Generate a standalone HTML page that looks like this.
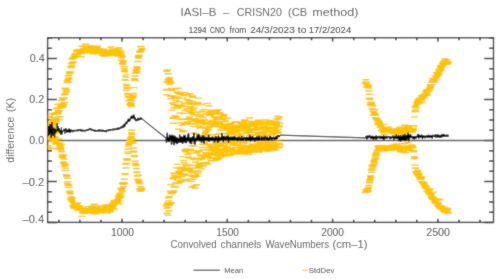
<!DOCTYPE html>
<html><head><meta charset="utf-8"><style>
html,body{margin:0;padding:0;background:#fff;width:500px;height:279px;overflow:hidden}
svg{display:block;will-change:transform}
text{font-family:"Liberation Sans",sans-serif}
</style></head><body>
<svg width="500" height="279" viewBox="0 0 500 279">
<defs><filter id="soft" x="0" y="0" width="500" height="279" filterUnits="userSpaceOnUse"><feConvolveMatrix order="3" kernelMatrix="1 2 1 2 20 2 1 2 1" divisor="32" edgeMode="duplicate"/></filter></defs><g filter="url(#soft)"><rect width="500" height="279" fill="#fff"/><rect x="47.6" y="37.7" width="445.9" height="184.7" fill="none" stroke="#333" stroke-width="1.4"/>
<path d="M58.8 222.4v-2.6M58.8 37.7v2.6M79.9 222.4v-2.6M79.9 37.7v2.6M100.9 222.4v-2.6M100.9 37.7v2.6M122.0 222.4v-3.7M122.0 37.7v3.7M143.1 222.4v-2.6M143.1 37.7v2.6M164.1 222.4v-2.6M164.1 37.7v2.6M185.2 222.4v-2.6M185.2 37.7v2.6M206.2 222.4v-2.6M206.2 37.7v2.6M227.3 222.4v-3.7M227.3 37.7v3.7M248.4 222.4v-2.6M248.4 37.7v2.6M269.4 222.4v-2.6M269.4 37.7v2.6M290.5 222.4v-2.6M290.5 37.7v2.6M311.5 222.4v-2.6M311.5 37.7v2.6M332.6 222.4v-3.7M332.6 37.7v3.7M353.7 222.4v-2.6M353.7 37.7v2.6M374.7 222.4v-2.6M374.7 37.7v2.6M395.8 222.4v-2.6M395.8 37.7v2.6M416.8 222.4v-2.6M416.8 37.7v2.6M437.9 222.4v-3.7M437.9 37.7v3.7M459.0 222.4v-2.6M459.0 37.7v2.6M480.0 222.4v-2.6M480.0 37.7v2.6M47.6 222.5h9.3M493.5 222.5h-9.3M47.6 212.3h4.4M493.5 212.3h-4.4M47.6 202.0h4.4M493.5 202.0h-4.4M47.6 191.8h4.4M493.5 191.8h-4.4M47.6 181.5h9.3M493.5 181.5h-9.3M47.6 171.3h4.4M493.5 171.3h-4.4M47.6 161.0h4.4M493.5 161.0h-4.4M47.6 150.8h4.4M493.5 150.8h-4.4M47.6 140.5h9.3M493.5 140.5h-9.3M47.6 130.2h4.4M493.5 130.2h-4.4M47.6 120.0h4.4M493.5 120.0h-4.4M47.6 109.7h4.4M493.5 109.7h-4.4M47.6 99.5h9.3M493.5 99.5h-9.3M47.6 89.2h4.4M493.5 89.2h-4.4M47.6 79.0h4.4M493.5 79.0h-4.4M47.6 68.7h4.4M493.5 68.7h-4.4M47.6 58.5h9.3M493.5 58.5h-9.3M47.6 48.2h4.4M493.5 48.2h-4.4M47.6 38.0h4.4M493.5 38.0h-4.4" stroke="#333" stroke-width="1.5" fill="none"/>
<path d="M47.6 140.5H493.5" stroke="#5a5a5a" stroke-width="1.4"/>
<defs><clipPath id="pc"><rect x="47.6" y="37.7" width="445.9" height="184.7"/></clipPath></defs>
<g clip-path="url(#pc)">
<path d="M44.8 127.2h7M44.8 145.7h7M45.1 125.9h7M45.1 131.6h7M45.3 130.3h7M45.3 147.6h7M45.6 128.9h7M45.6 136.9h7M45.8 116.4h7M45.8 131.2h7M46.1 134.4h7M46.1 138.4h7M46.4 124.2h7M46.4 134.0h7M46.6 122.1h7M46.6 130.3h7M46.9 124.5h7M46.9 132.6h7M47.2 129.8h7M47.2 139.5h7M47.4 124.5h7M47.4 137.8h7M47.7 135.6h7M47.7 148.7h7M47.9 127.5h7M47.9 139.8h7M48.2 124.8h7M48.2 129.3h7M48.5 113.5h7M48.5 123.3h7M48.7 120.3h7M48.7 139.8h7M49.0 117.8h7M49.0 135.8h7M49.3 122.4h7M49.3 141.9h7M49.5 125.2h7M49.5 139.3h7M49.8 120.0h7M49.8 137.0h7M50.1 122.9h7M50.1 133.5h7M50.3 121.0h7M50.3 140.6h7M50.6 114.8h7M50.6 137.6h7M50.8 124.6h7M50.8 137.8h7M51.1 127.0h7M51.1 148.5h7M51.4 118.0h7M51.4 140.9h7M51.6 117.6h7M51.6 136.7h7M51.9 120.8h7M51.9 143.7h7M52.2 113.9h7M52.2 138.6h7M52.4 112.7h7M52.4 138.6h7M52.7 121.3h7M52.7 142.1h7M53.0 123.3h7M53.0 139.7h7M53.2 108.8h7M53.2 144.4h7M53.5 118.7h7M53.5 142.9h7M53.7 107.9h7M53.7 133.2h7M54.0 104.4h7M54.0 131.3h7M54.3 113.7h7M54.3 144.0h7M54.5 110.8h7M54.5 132.7h7M54.8 111.9h7M54.8 143.4h7M55.1 111.2h7M55.1 143.8h7M55.3 112.9h7M55.3 139.0h7M55.6 108.1h7M55.6 139.4h7M55.8 108.4h7M55.8 143.0h7M56.1 110.8h7M56.1 146.5h7M56.4 119.6h7M56.4 143.9h7M56.6 116.8h7M56.6 145.4h7M56.9 105.9h7M56.9 149.2h7M57.2 107.5h7M57.2 146.8h7M57.4 107.7h7M57.4 148.2h7M57.7 104.0h7M57.7 150.0h7M58.0 100.5h7M58.0 144.2h7M58.2 106.6h7M58.2 151.7h7M58.5 106.9h7M58.5 154.6h7M58.7 97.9h7M58.7 156.7h7M59.0 104.7h7M59.0 157.1h7M59.3 107.3h7M59.3 158.1h7M59.5 106.2h7M59.5 155.6h7M59.8 99.0h7M59.8 163.0h7M60.1 105.0h7M60.1 161.9h7M60.3 103.0h7M60.3 154.7h7M60.6 94.4h7M60.6 159.1h7M60.8 98.0h7M60.8 166.2h7M61.1 94.7h7M61.1 164.4h7M61.4 102.7h7M61.4 170.4h7M61.6 88.2h7M61.6 164.0h7M61.9 93.7h7M61.9 165.1h7M62.2 89.7h7M62.2 168.2h7M62.4 88.3h7M62.4 170.5h7M62.7 92.1h7M62.7 174.6h7M63.0 91.7h7M63.0 176.3h7M63.2 90.1h7M63.2 175.8h7M63.5 80.9h7M63.5 175.4h7M63.7 82.6h7M63.7 183.5h7M64.0 81.9h7M64.0 178.2h7M64.3 79.7h7M64.3 181.6h7M64.5 79.1h7M64.5 185.0h7M64.8 75.7h7M64.8 184.6h7M65.1 78.9h7M65.1 187.3h7M65.3 82.0h7M65.3 185.3h7M65.6 73.9h7M65.6 187.2h7M65.8 78.0h7M65.8 192.0h7M66.1 71.7h7M66.1 191.7h7M66.4 73.0h7M66.4 191.3h7M66.6 72.8h7M66.6 193.9h7M66.9 72.3h7M66.9 193.4h7M67.2 67.6h7M67.2 199.0h7M67.4 72.1h7M67.4 197.0h7M67.7 66.4h7M67.7 200.0h7M68.0 63.5h7M68.0 198.9h7M68.2 67.3h7M68.2 200.0h7M68.5 65.4h7M68.5 201.0h7M68.7 59.0h7M68.7 202.4h7M69.0 62.8h7M69.0 198.0h7M69.3 62.6h7M69.3 205.3h7M69.5 57.7h7M69.5 205.8h7M69.8 61.6h7M69.8 207.4h7M70.1 57.5h7M70.1 206.7h7M70.3 58.1h7M70.3 205.7h7M70.6 57.0h7M70.6 208.4h7M70.9 58.0h7M70.9 203.7h7M71.1 54.4h7M71.1 206.1h7M71.4 55.5h7M71.4 207.4h7M71.6 56.5h7M71.6 207.2h7M71.9 53.7h7M71.9 206.3h7M72.2 54.7h7M72.2 206.7h7M72.4 53.6h7M72.4 205.7h7M72.7 53.7h7M72.7 207.9h7M73.0 51.4h7M73.0 206.7h7M73.2 51.7h7M73.2 204.7h7M73.5 50.0h7M73.5 209.7h7M73.7 51.1h7M73.7 203.9h7M74.0 56.7h7M74.0 205.6h7M74.3 54.9h7M74.3 202.9h7M74.5 50.8h7M74.5 205.8h7M74.8 51.2h7M74.8 208.2h7M75.1 50.4h7M75.1 208.2h7M75.3 49.4h7M75.3 207.1h7M75.6 50.4h7M75.6 207.3h7M75.9 49.9h7M75.9 210.3h7M76.1 51.9h7M76.1 207.7h7M76.4 52.2h7M76.4 206.0h7M76.6 52.0h7M76.6 209.5h7M76.9 49.8h7M76.9 210.3h7M77.2 52.7h7M77.2 209.0h7M77.4 53.5h7M77.4 208.2h7M77.7 56.7h7M77.7 209.5h7M78.0 51.8h7M78.0 209.0h7M78.2 49.4h7M78.2 216.4h7M78.5 51.7h7M78.5 211.1h7M78.7 46.0h7M78.7 210.2h7M79.0 51.5h7M79.0 213.0h7M79.3 50.4h7M79.3 207.6h7M79.5 49.4h7M79.5 210.0h7M79.8 48.6h7M79.8 210.6h7M80.1 51.5h7M80.1 209.3h7M80.3 46.6h7M80.3 210.5h7M80.6 48.5h7M80.6 212.1h7M80.9 46.4h7M80.9 213.5h7M81.1 49.2h7M81.1 210.2h7M81.4 48.5h7M81.4 211.8h7M81.6 51.8h7M81.6 212.0h7M81.9 48.6h7M81.9 212.0h7M82.2 44.3h7M82.2 212.1h7M82.4 52.7h7M82.4 209.0h7M82.7 50.2h7M82.7 210.9h7M83.0 52.4h7M83.0 210.3h7M83.2 46.7h7M83.2 211.2h7M83.5 48.0h7M83.5 211.5h7M83.8 50.8h7M83.8 210.2h7M84.0 50.4h7M84.0 210.2h7M84.3 52.9h7M84.3 206.9h7M84.5 47.0h7M84.5 210.0h7M84.8 46.5h7M84.8 210.0h7M85.1 51.2h7M85.1 209.0h7M85.3 47.8h7M85.3 212.9h7M85.6 51.2h7M85.6 208.6h7M85.9 49.1h7M85.9 210.9h7M86.1 50.8h7M86.1 212.9h7M86.4 48.3h7M86.4 206.9h7M86.6 48.2h7M86.6 206.9h7M86.9 47.5h7M86.9 206.8h7M87.2 50.4h7M87.2 211.2h7M87.4 45.8h7M87.4 206.5h7M87.7 49.2h7M87.7 212.9h7M88.0 52.3h7M88.0 211.9h7M88.2 47.0h7M88.2 207.7h7M88.5 47.1h7M88.5 208.3h7M88.8 48.9h7M88.8 210.6h7M89.0 47.6h7M89.0 208.2h7M89.3 49.0h7M89.3 211.1h7M89.5 53.8h7M89.5 206.0h7M89.8 49.5h7M89.8 213.3h7M90.1 50.5h7M90.1 207.4h7M90.3 47.6h7M90.3 209.9h7M90.6 48.2h7M90.6 213.1h7M90.9 48.7h7M90.9 204.2h7M91.1 49.4h7M91.1 206.9h7M91.4 52.1h7M91.4 207.9h7M91.6 52.3h7M91.6 209.1h7M91.9 51.4h7M91.9 208.6h7M92.2 53.8h7M92.2 213.7h7M92.4 51.1h7M92.4 209.6h7M92.7 51.4h7M92.7 212.3h7M93.0 50.9h7M93.0 210.2h7M93.2 51.1h7M93.2 207.3h7M93.5 47.4h7M93.5 209.8h7M93.8 51.7h7M93.8 211.0h7M94.0 46.1h7M94.0 211.2h7M94.3 50.3h7M94.3 210.6h7M94.5 52.7h7M94.5 209.0h7M94.8 51.6h7M94.8 209.1h7M95.1 50.6h7M95.1 208.6h7M95.3 53.5h7M95.3 211.3h7M95.6 52.4h7M95.6 212.7h7M95.9 52.0h7M95.9 210.0h7M96.1 48.7h7M96.1 209.2h7M96.4 52.2h7M96.4 211.4h7M96.7 50.2h7M96.7 209.3h7M96.9 53.2h7M96.9 210.3h7M97.2 50.0h7M97.2 206.0h7M97.4 50.6h7M97.4 210.5h7M97.7 52.8h7M97.7 208.9h7M98.0 51.2h7M98.0 211.0h7M98.2 50.5h7M98.2 211.9h7M98.5 53.7h7M98.5 212.8h7M98.8 55.4h7M98.8 209.8h7M99.0 49.7h7M99.0 212.7h7M99.3 52.0h7M99.3 207.9h7M99.5 52.0h7M99.5 212.0h7M99.8 52.3h7M99.8 207.9h7M100.1 50.9h7M100.1 211.7h7M100.3 49.3h7M100.3 209.0h7M100.6 56.4h7M100.6 210.7h7M100.9 54.1h7M100.9 211.3h7M101.1 53.1h7M101.1 210.4h7M101.4 53.8h7M101.4 209.7h7M101.7 52.2h7M101.7 205.2h7M101.9 50.2h7M101.9 210.9h7M102.2 52.9h7M102.2 212.0h7M102.4 53.7h7M102.4 209.7h7M102.7 54.0h7M102.7 206.4h7M103.0 52.4h7M103.0 206.8h7M103.2 51.2h7M103.2 206.2h7M103.5 55.0h7M103.5 209.2h7M103.8 55.9h7M103.8 212.1h7M104.0 52.9h7M104.0 212.8h7M104.3 53.3h7M104.3 207.5h7M104.5 53.6h7M104.5 204.7h7M104.8 53.2h7M104.8 207.6h7M105.1 51.5h7M105.1 206.7h7M105.3 52.5h7M105.3 211.5h7M105.6 52.4h7M105.6 209.4h7M105.9 51.2h7M105.9 208.4h7M106.1 50.7h7M106.1 205.8h7M106.4 52.1h7M106.4 204.8h7M106.7 50.6h7M106.7 211.8h7M106.9 52.6h7M106.9 210.2h7M107.2 52.8h7M107.2 209.3h7M107.4 47.0h7M107.4 205.3h7M107.7 51.6h7M107.7 206.1h7M108.0 52.7h7M108.0 206.3h7M108.2 53.7h7M108.2 205.8h7M108.5 55.0h7M108.5 206.3h7M108.8 49.0h7M108.8 204.5h7M109.0 53.1h7M109.0 207.5h7M109.3 52.0h7M109.3 202.9h7M109.5 51.5h7M109.5 205.9h7M109.8 48.9h7M109.8 204.0h7M110.1 54.8h7M110.1 206.0h7M110.3 55.6h7M110.3 205.5h7M110.6 49.2h7M110.6 201.4h7M110.9 50.8h7M110.9 200.5h7M111.1 50.2h7M111.1 201.8h7M111.4 49.6h7M111.4 208.7h7M111.7 50.3h7M111.7 201.6h7M111.9 53.1h7M111.9 203.6h7M112.2 54.1h7M112.2 203.8h7M112.4 55.1h7M112.4 200.8h7M112.7 52.9h7M112.7 203.5h7M113.0 51.4h7M113.0 202.3h7M113.2 51.2h7M113.2 200.1h7M113.5 52.2h7M113.5 201.7h7M113.8 52.5h7M113.8 200.7h7M114.0 52.6h7M114.0 199.8h7M114.3 49.4h7M114.3 203.0h7M114.6 56.1h7M114.6 196.3h7M114.8 55.5h7M114.8 198.9h7M115.1 51.5h7M115.1 201.0h7M115.3 47.8h7M115.3 197.1h7M115.6 52.3h7M115.6 203.7h7M115.9 54.0h7M115.9 193.7h7M116.1 51.8h7M116.1 198.1h7M116.4 55.7h7M116.4 194.7h7M116.7 49.9h7M116.7 198.3h7M116.9 54.2h7M116.9 197.9h7M117.2 53.1h7M117.2 188.6h7M117.4 52.0h7M117.4 196.3h7M117.7 55.0h7M117.7 192.9h7M118.0 60.2h7M118.0 189.9h7M118.2 57.7h7M118.2 190.6h7M118.5 56.2h7M118.5 188.2h7M118.8 56.7h7M118.8 183.2h7M119.0 63.0h7M119.0 191.1h7M119.3 64.3h7M119.3 190.9h7M119.6 62.1h7M119.6 184.2h7M119.8 60.8h7M119.8 182.5h7M120.1 60.7h7M120.1 186.7h7M120.3 66.7h7M120.3 183.8h7M120.6 68.8h7M120.6 182.7h7M120.9 66.5h7M120.9 179.3h7M121.1 71.8h7M121.1 183.4h7M121.4 70.5h7M121.4 173.8h7M121.7 79.8h7M121.7 174.6h7M121.9 80.3h7M121.9 174.0h7M122.2 77.0h7M122.2 164.0h7M122.4 74.9h7M122.4 168.0h7M122.7 84.4h7M122.7 163.8h7M123.0 90.3h7M123.0 159.5h7M123.2 85.7h7M123.2 163.2h7M123.5 88.2h7M123.5 158.7h7M123.8 87.8h7M123.8 160.2h7M124.0 94.5h7M124.0 149.1h7M124.3 93.5h7M124.3 151.9h7M124.6 94.3h7M124.6 153.6h7M124.8 97.3h7M124.8 145.7h7M125.1 94.7h7M125.1 149.0h7M125.3 100.9h7M125.3 144.5h7M125.6 96.6h7M125.6 143.5h7M125.9 100.5h7M125.9 142.6h7M126.1 104.1h7M126.1 143.2h7M126.4 105.0h7M126.4 140.5h7M126.7 104.2h7M126.7 139.6h7M126.9 99.3h7M126.9 138.8h7M127.2 102.8h7M127.2 140.7h7M127.5 105.2h7M127.5 136.5h7M127.7 104.1h7M127.7 137.5h7M128.0 106.0h7M128.0 132.8h7M128.2 106.5h7M128.2 130.3h7M128.5 100.9h7M128.5 134.5h7M128.8 96.4h7M128.8 138.8h7M129.0 98.1h7M129.0 141.8h7M129.3 97.2h7M129.3 143.2h7M129.6 96.4h7M129.6 141.5h7M129.8 95.8h7M129.8 148.2h7M130.1 93.8h7M130.1 151.2h7M130.3 93.5h7M130.3 148.3h7M130.6 87.6h7M130.6 152.0h7M130.9 78.7h7M130.9 156.6h7M131.1 79.6h7M131.1 155.4h7M131.4 76.0h7M131.4 163.5h7M131.7 73.3h7M131.7 161.3h7M131.9 80.6h7M131.9 161.2h7M132.2 73.4h7M132.2 165.5h7M132.5 70.9h7M132.5 165.4h7M132.7 69.6h7M132.7 164.6h7M133.0 66.8h7M133.0 168.5h7M133.2 72.5h7M133.2 172.0h7M133.5 71.6h7M133.5 172.6h7M133.8 69.1h7M133.8 176.0h7M134.0 68.3h7M134.0 179.7h7M134.3 61.5h7M134.3 175.1h7M134.6 56.8h7M134.6 175.4h7M134.8 61.5h7M134.8 179.3h7M135.1 58.0h7M135.1 181.7h7M135.3 55.6h7M135.3 180.6h7M135.6 55.3h7M135.6 183.0h7M135.9 56.0h7M135.9 183.2h7M136.1 52.4h7M136.1 188.8h7M136.4 51.1h7M136.4 183.9h7M136.7 51.9h7M136.7 191.2h7M136.9 46.5h7M136.9 186.6h7M137.2 51.0h7M137.2 189.6h7M137.5 50.8h7M137.5 190.3h7M137.7 46.9h7M137.7 189.9h7M138.0 50.3h7M138.0 189.1h7M138.2 49.7h7M138.2 190.1h7M138.5 48.6h7M138.5 188.3h7M162.7 90.1h7M162.7 205.9h7M163.0 71.3h7M163.0 208.4h7M163.3 94.8h7M163.3 204.9h7M163.5 82.3h7M163.5 213.2h7M163.8 89.5h7M163.8 202.9h7M164.0 70.0h7M164.0 203.7h7M164.3 81.5h7M164.3 215.1h7M164.6 79.3h7M164.6 207.5h7M164.8 73.8h7M164.8 197.8h7M165.1 82.8h7M165.1 200.9h7M165.4 80.1h7M165.4 205.3h7M165.6 81.5h7M165.6 210.8h7M165.9 79.7h7M165.9 196.5h7M166.1 77.8h7M166.1 196.5h7M166.4 84.5h7M166.4 204.8h7M166.7 81.2h7M166.7 191.3h7M166.9 96.4h7M166.9 203.5h7M167.2 98.8h7M167.2 184.6h7M167.5 82.8h7M167.5 193.5h7M167.7 96.2h7M167.7 192.5h7M168.0 88.5h7M168.0 202.5h7M168.3 90.3h7M168.3 191.9h7M168.5 110.1h7M168.5 191.1h7M168.8 102.8h7M168.8 193.4h7M169.0 95.7h7M169.0 193.6h7M169.3 117.6h7M169.3 178.7h7M169.6 118.6h7M169.6 177.8h7M169.8 123.3h7M169.8 192.4h7M170.1 104.8h7M170.1 173.2h7M170.4 107.7h7M170.4 186.4h7M170.6 97.7h7M170.6 190.7h7M170.9 104.5h7M170.9 187.4h7M171.2 98.3h7M171.2 175.2h7M171.4 115.8h7M171.4 177.0h7M171.7 88.9h7M171.7 178.1h7M171.9 98.2h7M171.9 183.2h7M172.2 88.5h7M172.2 176.2h7M172.5 116.7h7M172.5 186.6h7M172.7 100.5h7M172.7 167.9h7M173.0 117.1h7M173.0 177.4h7M173.3 96.9h7M173.3 183.6h7M173.5 91.9h7M173.5 177.5h7M173.8 106.0h7M173.8 164.4h7M174.0 98.4h7M174.0 180.3h7M174.3 93.3h7M174.3 182.6h7M174.6 108.1h7M174.6 178.1h7M174.8 106.7h7M174.8 176.0h7M175.1 88.1h7M175.1 171.3h7M175.4 129.2h7M175.4 171.7h7M175.6 118.9h7M175.6 183.4h7M175.9 101.8h7M175.9 167.7h7M176.2 113.1h7M176.2 173.2h7M176.4 94.5h7M176.4 180.9h7M176.7 93.2h7M176.7 168.4h7M176.9 113.3h7M176.9 169.0h7M177.2 122.7h7M177.2 170.9h7M177.5 92.5h7M177.5 181.9h7M177.7 105.1h7M177.7 176.6h7M178.0 119.5h7M178.0 174.4h7M178.3 125.3h7M178.3 167.1h7M178.5 94.4h7M178.5 180.1h7M178.8 106.3h7M178.8 175.9h7M179.0 130.5h7M179.0 176.5h7M179.3 131.8h7M179.3 156.6h7M179.6 98.1h7M179.6 169.2h7M179.8 131.2h7M179.8 173.9h7M180.1 95.0h7M180.1 160.5h7M180.4 113.6h7M180.4 168.0h7M180.6 95.6h7M180.6 162.7h7M180.9 103.5h7M180.9 173.8h7M181.2 92.4h7M181.2 180.5h7M181.4 110.5h7M181.4 150.5h7M181.7 123.7h7M181.7 170.7h7M181.9 119.5h7M181.9 164.6h7M182.2 119.1h7M182.2 151.9h7M182.5 106.5h7M182.5 148.9h7M182.7 94.2h7M182.7 150.2h7M183.0 123.2h7M183.0 179.5h7M183.3 108.7h7M183.3 165.7h7M183.5 124.4h7M183.5 170.0h7M183.8 99.7h7M183.8 164.7h7M184.0 94.5h7M184.0 168.0h7M184.3 122.0h7M184.3 154.4h7M184.6 119.3h7M184.6 157.0h7M184.8 102.2h7M184.8 175.2h7M185.1 102.9h7M185.1 140.7h7M185.4 118.7h7M185.4 149.8h7M185.6 111.4h7M185.6 170.3h7M185.9 117.2h7M185.9 158.1h7M186.2 100.6h7M186.2 153.2h7M186.4 108.5h7M186.4 179.1h7M186.7 93.8h7M186.7 168.9h7M186.9 104.4h7M186.9 165.3h7M187.2 106.9h7M187.2 149.3h7M187.5 120.0h7M187.5 171.2h7M187.7 112.3h7M187.7 181.3h7M188.0 113.5h7M188.0 187.1h7M188.3 103.4h7M188.3 172.5h7M188.5 96.0h7M188.5 145.7h7M188.8 123.5h7M188.8 176.4h7M189.1 101.6h7M189.1 158.0h7M189.3 97.2h7M189.3 165.1h7M189.6 110.0h7M189.6 179.4h7M189.8 114.7h7M189.8 150.8h7M190.1 126.4h7M190.1 159.6h7M190.4 108.0h7M190.4 146.3h7M190.6 133.3h7M190.6 185.9h7M190.9 104.7h7M190.9 175.2h7M191.2 124.1h7M191.2 177.3h7M191.4 121.4h7M191.4 168.0h7M191.7 118.8h7M191.7 188.2h7M191.9 119.8h7M191.9 162.1h7M192.2 134.2h7M192.2 175.4h7M192.5 120.5h7M192.5 176.4h7M192.7 103.1h7M192.7 158.1h7M193.0 114.6h7M193.0 184.7h7M193.3 112.4h7M193.3 153.0h7M193.5 112.5h7M193.5 176.4h7M193.8 112.2h7M193.8 170.9h7M194.1 102.4h7M194.1 158.5h7M194.3 103.3h7M194.3 173.9h7M194.6 122.6h7M194.6 151.9h7M194.8 98.1h7M194.8 171.8h7M195.1 104.5h7M195.1 167.3h7M195.4 125.9h7M195.4 165.0h7M195.6 116.9h7M195.6 166.5h7M195.9 116.3h7M195.9 150.9h7M196.2 119.6h7M196.2 159.9h7M196.4 127.7h7M196.4 163.1h7M196.7 114.5h7M196.7 164.1h7M196.9 123.8h7M196.9 155.0h7M197.2 116.3h7M197.2 155.0h7M197.5 104.6h7M197.5 158.2h7M197.7 121.6h7M197.7 156.1h7M198.0 121.3h7M198.0 155.5h7M198.3 127.3h7M198.3 168.9h7M198.5 104.1h7M198.5 147.5h7M198.8 111.3h7M198.8 159.0h7M199.1 122.2h7M199.1 144.5h7M199.3 137.1h7M199.3 144.5h7M199.6 111.7h7M199.6 149.9h7M199.8 117.5h7M199.8 165.7h7M200.1 120.6h7M200.1 162.6h7M200.4 123.1h7M200.4 156.1h7M200.6 109.4h7M200.6 164.1h7M200.9 119.7h7M200.9 142.8h7M201.2 133.9h7M201.2 155.7h7M201.4 123.3h7M201.4 157.4h7M201.7 128.4h7M201.7 156.1h7M202.0 132.6h7M202.0 152.6h7M202.2 130.9h7M202.2 162.5h7M202.5 124.7h7M202.5 153.3h7M202.7 111.9h7M202.7 157.0h7M203.0 131.2h7M203.0 155.8h7M203.3 127.1h7M203.3 163.2h7M203.5 113.8h7M203.5 144.1h7M203.8 135.3h7M203.8 150.0h7M204.1 103.4h7M204.1 154.1h7M204.3 128.1h7M204.3 164.1h7M204.6 122.7h7M204.6 154.1h7M204.8 123.4h7M204.8 156.8h7M205.1 129.7h7M205.1 147.7h7M205.4 105.8h7M205.4 145.0h7M205.6 114.0h7M205.6 154.1h7M205.9 123.8h7M205.9 153.0h7M206.2 115.0h7M206.2 150.5h7M206.4 126.7h7M206.4 157.7h7M206.7 113.3h7M206.7 144.2h7M207.0 115.5h7M207.0 158.8h7M207.2 121.3h7M207.2 146.4h7M207.5 110.2h7M207.5 154.8h7M207.7 111.7h7M207.7 160.8h7M208.0 124.8h7M208.0 150.9h7M208.3 113.6h7M208.3 157.6h7M208.5 123.9h7M208.5 157.7h7M208.8 114.2h7M208.8 147.7h7M209.1 134.8h7M209.1 160.7h7M209.3 120.9h7M209.3 148.7h7M209.6 120.3h7M209.6 149.2h7M209.8 125.7h7M209.8 154.8h7M210.1 111.9h7M210.1 160.9h7M210.4 123.3h7M210.4 158.8h7M210.6 117.1h7M210.6 155.4h7M210.9 116.9h7M210.9 151.5h7M211.2 136.9h7M211.2 153.3h7M211.4 121.3h7M211.4 160.6h7M211.7 125.0h7M211.7 149.7h7M212.0 113.2h7M212.0 148.3h7M212.2 118.0h7M212.2 142.4h7M212.5 114.3h7M212.5 143.9h7M212.7 121.7h7M212.7 144.9h7M213.0 122.7h7M213.0 143.7h7M213.3 111.2h7M213.3 160.2h7M213.5 126.1h7M213.5 158.5h7M213.8 119.2h7M213.8 156.9h7M214.1 137.5h7M214.1 146.5h7M214.3 114.3h7M214.3 158.9h7M214.6 134.1h7M214.6 143.5h7M214.8 109.8h7M214.8 146.9h7M215.1 126.4h7M215.1 152.2h7M215.4 126.8h7M215.4 158.8h7M215.6 117.7h7M215.6 153.0h7M215.9 122.8h7M215.9 153.5h7M216.2 133.5h7M216.2 154.4h7M216.4 112.7h7M216.4 146.0h7M216.7 127.3h7M216.7 150.6h7M217.0 123.9h7M217.0 155.7h7M217.2 130.2h7M217.2 143.8h7M217.5 126.3h7M217.5 148.9h7M217.7 114.2h7M217.7 157.0h7M218.0 119.6h7M218.0 151.9h7M218.3 116.1h7M218.3 150.9h7M218.5 118.7h7M218.5 145.1h7M218.8 124.3h7M218.8 150.0h7M219.1 127.8h7M219.1 143.0h7M219.3 126.8h7M219.3 156.2h7M219.6 128.2h7M219.6 143.2h7M219.9 121.6h7M219.9 156.3h7M220.1 116.3h7M220.1 150.2h7M220.4 125.8h7M220.4 151.3h7M220.6 114.8h7M220.6 145.6h7M220.9 127.4h7M220.9 151.2h7M221.2 124.3h7M221.2 145.1h7M221.4 121.6h7M221.4 152.7h7M221.7 118.2h7M221.7 150.4h7M222.0 133.5h7M222.0 146.8h7M222.2 125.8h7M222.2 148.8h7M222.5 120.1h7M222.5 143.3h7M222.7 130.1h7M222.7 143.1h7M223.0 126.7h7M223.0 154.5h7M223.3 124.4h7M223.3 147.8h7M223.5 125.2h7M223.5 141.1h7M223.8 129.4h7M223.8 146.7h7M224.1 129.3h7M224.1 150.8h7M224.3 124.3h7M224.3 155.4h7M224.6 118.3h7M224.6 141.7h7M224.9 128.2h7M224.9 149.1h7M225.1 134.2h7M225.1 151.7h7M225.4 127.6h7M225.4 155.9h7M225.6 126.7h7M225.6 142.0h7M225.9 132.3h7M225.9 148.6h7M226.2 123.9h7M226.2 150.8h7M226.4 127.6h7M226.4 143.6h7M226.7 129.0h7M226.7 155.1h7M227.0 130.3h7M227.0 150.4h7M227.2 126.8h7M227.2 154.0h7M227.5 123.2h7M227.5 148.4h7M227.7 128.8h7M227.7 149.5h7M228.0 133.8h7M228.0 151.4h7M228.3 134.7h7M228.3 149.3h7M228.5 130.9h7M228.5 149.4h7M228.8 127.8h7M228.8 154.3h7M229.1 131.1h7M229.1 144.6h7M229.3 132.6h7M229.3 150.5h7M229.6 126.5h7M229.6 150.1h7M229.9 131.5h7M229.9 153.0h7M230.1 130.5h7M230.1 142.8h7M230.4 131.1h7M230.4 145.4h7M230.6 128.0h7M230.6 144.9h7M230.9 125.1h7M230.9 143.1h7M231.2 122.3h7M231.2 147.9h7M231.4 125.7h7M231.4 150.7h7M231.7 129.1h7M231.7 152.9h7M232.0 122.2h7M232.0 147.4h7M232.2 121.6h7M232.2 141.5h7M232.5 131.6h7M232.5 144.6h7M232.8 133.6h7M232.8 152.3h7M233.0 131.0h7M233.0 151.9h7M233.3 125.2h7M233.3 154.1h7M233.5 122.4h7M233.5 153.0h7M233.8 132.1h7M233.8 144.5h7M234.1 135.8h7M234.1 153.3h7M234.3 126.5h7M234.3 150.0h7M234.6 126.9h7M234.6 142.0h7M234.9 125.9h7M234.9 147.3h7M235.1 133.8h7M235.1 152.4h7M235.4 128.6h7M235.4 153.3h7M235.6 128.7h7M235.6 151.2h7M235.9 129.4h7M235.9 150.0h7M236.2 129.3h7M236.2 150.0h7M236.4 129.8h7M236.4 147.7h7M236.7 127.5h7M236.7 152.7h7M237.0 122.8h7M237.0 154.0h7M237.2 127.1h7M237.2 148.7h7M237.5 136.5h7M237.5 145.7h7M237.8 135.2h7M237.8 153.1h7M238.0 123.5h7M238.0 149.8h7M238.3 122.7h7M238.3 142.4h7M238.5 122.2h7M238.5 146.6h7M238.8 131.0h7M238.8 154.1h7M239.1 124.3h7M239.1 143.0h7M239.3 123.1h7M239.3 150.6h7M239.6 122.8h7M239.6 145.3h7M239.9 122.3h7M239.9 153.4h7M240.1 128.3h7M240.1 150.5h7M240.4 125.6h7M240.4 146.6h7M240.6 124.9h7M240.6 143.0h7M240.9 124.1h7M240.9 153.1h7M241.2 120.0h7M241.2 151.1h7M241.4 120.5h7M241.4 149.3h7M241.7 126.8h7M241.7 152.5h7M242.0 133.4h7M242.0 147.0h7M242.2 129.1h7M242.2 150.9h7M242.5 125.3h7M242.5 151.3h7M242.8 121.6h7M242.8 146.8h7M243.0 127.5h7M243.0 141.6h7M243.3 127.6h7M243.3 146.4h7M243.5 132.6h7M243.5 141.6h7M243.8 123.6h7M243.8 150.9h7M244.1 131.0h7M244.1 146.9h7M244.3 130.8h7M244.3 147.4h7M244.6 124.9h7M244.6 146.7h7M244.9 132.3h7M244.9 147.3h7M245.1 128.2h7M245.1 150.5h7M245.4 131.5h7M245.4 154.3h7M245.6 121.5h7M245.6 148.3h7M245.9 130.8h7M245.9 151.4h7M246.2 117.7h7M246.2 145.6h7M246.4 135.5h7M246.4 150.8h7M246.7 125.4h7M246.7 148.2h7M247.0 126.3h7M247.0 148.1h7M247.2 134.5h7M247.2 152.6h7M247.5 129.8h7M247.5 147.3h7M247.8 128.4h7M247.8 147.9h7M248.0 130.6h7M248.0 146.5h7M248.3 132.4h7M248.3 149.3h7M248.5 122.8h7M248.5 144.5h7M248.8 121.7h7M248.8 143.9h7M249.1 124.0h7M249.1 148.7h7M249.3 125.0h7M249.3 146.2h7M249.6 134.5h7M249.6 148.0h7M249.9 129.4h7M249.9 152.1h7M250.1 123.4h7M250.1 145.4h7M250.4 125.3h7M250.4 146.4h7M250.7 135.3h7M250.7 146.8h7M250.9 121.8h7M250.9 148.0h7M251.2 130.3h7M251.2 146.8h7M251.4 124.7h7M251.4 146.2h7M251.7 126.3h7M251.7 150.2h7M252.0 122.3h7M252.0 148.0h7M252.2 129.7h7M252.2 147.6h7M252.5 132.4h7M252.5 147.3h7M252.8 122.0h7M252.8 150.8h7M253.0 128.7h7M253.0 141.6h7M253.3 134.8h7M253.3 147.5h7M253.5 124.7h7M253.5 151.6h7M253.8 134.1h7M253.8 144.2h7M254.1 127.8h7M254.1 146.9h7M254.3 122.0h7M254.3 152.3h7M254.6 120.3h7M254.6 149.8h7M254.9 129.2h7M254.9 144.0h7M255.1 133.1h7M255.1 145.8h7M255.4 121.8h7M255.4 144.0h7M255.7 123.5h7M255.7 147.2h7M255.9 135.3h7M255.9 152.3h7M256.2 129.9h7M256.2 143.5h7M256.4 133.5h7M256.4 150.1h7M256.7 124.2h7M256.7 142.9h7M257.0 123.5h7M257.0 150.9h7M257.2 128.1h7M257.2 142.2h7M257.5 132.8h7M257.5 146.9h7M257.8 122.1h7M257.8 142.3h7M258.0 132.2h7M258.0 142.3h7M258.3 136.3h7M258.3 150.5h7M258.5 124.0h7M258.5 148.2h7M258.8 133.5h7M258.8 142.8h7M259.1 123.4h7M259.1 142.4h7M259.3 133.2h7M259.3 146.2h7M259.6 126.3h7M259.6 145.1h7M259.9 123.1h7M259.9 142.5h7M260.1 126.0h7M260.1 147.1h7M260.4 128.2h7M260.4 143.1h7M260.7 127.2h7M260.7 149.8h7M260.9 131.6h7M260.9 148.4h7M261.2 132.7h7M261.2 148.1h7M261.4 135.5h7M261.4 149.6h7M261.7 120.0h7M261.7 139.4h7M262.0 122.0h7M262.0 142.2h7M262.2 134.7h7M262.2 146.3h7M262.5 129.1h7M262.5 141.8h7M262.8 129.2h7M262.8 149.4h7M263.0 130.1h7M263.0 150.3h7M263.3 128.9h7M263.3 144.4h7M263.6 136.1h7M263.6 145.3h7M263.8 128.7h7M263.8 149.1h7M264.1 128.3h7M264.1 145.3h7M264.3 127.9h7M264.3 143.5h7M264.6 127.7h7M264.6 151.2h7M264.9 125.0h7M264.9 147.5h7M265.1 123.4h7M265.1 142.0h7M265.4 127.2h7M265.4 145.4h7M265.7 131.0h7M265.7 150.4h7M265.9 131.3h7M265.9 147.6h7M266.2 124.4h7M266.2 142.9h7M266.4 127.0h7M266.4 146.5h7M266.7 134.6h7M266.7 148.0h7M267.0 120.5h7M267.0 144.4h7M267.2 128.6h7M267.2 145.0h7M267.5 129.0h7M267.5 150.6h7M267.8 121.8h7M267.8 143.2h7M268.0 131.7h7M268.0 148.9h7M268.3 121.7h7M268.3 146.0h7M268.6 130.9h7M268.6 150.1h7M268.8 132.6h7M268.8 150.1h7M269.1 134.2h7M269.1 149.5h7M269.3 131.8h7M269.3 146.0h7M269.6 127.2h7M269.6 148.6h7M269.9 128.9h7M269.9 141.9h7M270.1 123.9h7M270.1 144.0h7M270.4 135.0h7M270.4 144.1h7M270.7 128.8h7M270.7 148.7h7M270.9 131.0h7M270.9 145.0h7M271.2 122.7h7M271.2 143.9h7M271.4 127.9h7M271.4 145.7h7M271.7 121.1h7M271.7 146.7h7M272.0 125.1h7M272.0 147.5h7M272.2 133.1h7M272.2 146.8h7M272.5 123.5h7M272.5 146.7h7M272.8 130.1h7M272.8 150.2h7M273.0 125.0h7M273.0 147.9h7M273.3 125.6h7M273.3 144.3h7M273.6 118.8h7M273.6 146.3h7M273.8 122.3h7M273.8 147.2h7M274.1 116.2h7M274.1 141.3h7M274.3 131.8h7M274.3 147.1h7M274.6 129.4h7M274.6 143.4h7M274.9 119.2h7M274.9 146.5h7M275.1 132.9h7M275.1 143.4h7M275.4 126.9h7M275.4 147.5h7M275.7 125.8h7M275.7 144.1h7M275.9 117.1h7M275.9 139.6h7M276.2 125.8h7M276.2 143.8h7M276.5 123.2h7M276.5 146.1h7M361.7 83.3h7M361.7 192.5h7M362.0 82.6h7M362.0 192.1h7M362.3 82.3h7M362.3 189.8h7M362.5 79.7h7M362.5 189.8h7M362.8 83.0h7M362.8 189.5h7M363.1 87.0h7M363.1 190.7h7M363.3 84.6h7M363.3 190.3h7M363.6 84.8h7M363.6 190.5h7M363.8 87.2h7M363.8 192.0h7M364.1 84.7h7M364.1 188.6h7M364.4 87.3h7M364.4 189.7h7M364.6 85.2h7M364.6 191.4h7M364.9 86.3h7M364.9 187.7h7M365.2 88.1h7M365.2 185.4h7M365.4 91.0h7M365.4 185.4h7M365.7 94.3h7M365.7 185.7h7M366.0 98.1h7M366.0 182.8h7M366.2 99.5h7M366.2 182.0h7M366.5 98.3h7M366.5 180.2h7M366.7 104.8h7M366.7 178.9h7M367.0 102.8h7M367.0 176.8h7M367.3 103.8h7M367.3 175.6h7M367.5 105.9h7M367.5 177.6h7M367.8 104.0h7M367.8 169.8h7M368.1 102.2h7M368.1 172.2h7M368.3 104.3h7M368.3 169.0h7M368.6 108.6h7M368.6 166.0h7M368.9 105.7h7M368.9 170.0h7M369.1 105.7h7M369.1 164.8h7M369.4 109.6h7M369.4 167.0h7M369.6 111.6h7M369.6 167.1h7M369.9 114.8h7M369.9 165.8h7M370.2 111.5h7M370.2 162.2h7M370.4 115.3h7M370.4 164.9h7M370.7 112.8h7M370.7 160.7h7M371.0 114.7h7M371.0 163.0h7M371.2 113.7h7M371.2 159.5h7M371.5 113.4h7M371.5 158.7h7M371.7 109.6h7M371.7 155.1h7M372.0 117.8h7M372.0 153.6h7M372.3 115.0h7M372.3 157.0h7M372.5 118.2h7M372.5 158.9h7M372.8 117.9h7M372.8 155.2h7M373.1 119.9h7M373.1 152.8h7M373.3 118.6h7M373.3 154.7h7M373.6 119.0h7M373.6 151.0h7M373.9 119.7h7M373.9 150.1h7M374.1 124.5h7M374.1 150.2h7M374.4 123.1h7M374.4 146.3h7M374.6 121.3h7M374.6 146.7h7M374.9 121.0h7M374.9 147.6h7M375.2 123.7h7M375.2 149.0h7M375.4 123.9h7M375.4 145.8h7M375.7 121.5h7M375.7 148.4h7M376.0 124.7h7M376.0 145.9h7M376.2 122.9h7M376.2 145.5h7M376.5 124.0h7M376.5 149.2h7M376.7 127.3h7M376.7 148.9h7M377.0 125.0h7M377.0 145.7h7M377.3 126.1h7M377.3 149.3h7M377.5 126.8h7M377.5 148.0h7M377.8 126.5h7M377.8 147.0h7M378.1 129.9h7M378.1 146.7h7M378.3 130.5h7M378.3 147.4h7M378.6 129.2h7M378.6 145.5h7M378.9 129.3h7M378.9 149.1h7M379.1 128.9h7M379.1 150.4h7M379.4 130.8h7M379.4 149.0h7M379.6 132.9h7M379.6 148.4h7M379.9 130.8h7M379.9 147.3h7M380.2 124.4h7M380.2 146.2h7M380.4 131.8h7M380.4 148.2h7M380.7 131.8h7M380.7 151.0h7M381.0 134.8h7M381.0 148.3h7M381.2 130.7h7M381.2 145.6h7M381.5 131.9h7M381.5 147.7h7M381.8 129.3h7M381.8 147.9h7M382.0 127.7h7M382.0 146.9h7M382.3 129.1h7M382.3 146.9h7M382.5 129.0h7M382.5 148.3h7M382.8 128.6h7M382.8 146.6h7M383.1 129.2h7M383.1 145.7h7M383.3 131.3h7M383.3 147.3h7M383.6 130.4h7M383.6 148.0h7M383.9 130.3h7M383.9 147.8h7M384.1 130.7h7M384.1 150.1h7M384.4 130.2h7M384.4 145.7h7M384.6 127.2h7M384.6 150.1h7M384.9 132.5h7M384.9 149.1h7M385.2 127.8h7M385.2 147.0h7M385.4 130.3h7M385.4 149.0h7M385.7 131.7h7M385.7 145.7h7M386.0 130.8h7M386.0 147.9h7M386.2 130.1h7M386.2 147.1h7M386.5 131.9h7M386.5 149.8h7M386.8 131.8h7M386.8 146.0h7M387.0 131.1h7M387.0 150.6h7M387.3 129.1h7M387.3 146.2h7M387.5 131.2h7M387.5 147.3h7M387.8 131.3h7M387.8 148.0h7M388.1 132.8h7M388.1 148.5h7M388.3 130.9h7M388.3 148.3h7M388.6 129.3h7M388.6 147.7h7M388.9 131.4h7M388.9 148.4h7M389.1 130.9h7M389.1 149.2h7M389.4 130.6h7M389.4 144.9h7M389.6 130.7h7M389.6 148.3h7M389.9 130.4h7M389.9 149.8h7M390.2 130.5h7M390.2 146.9h7M390.4 133.7h7M390.4 149.8h7M390.7 132.2h7M390.7 146.6h7M391.0 130.7h7M391.0 147.2h7M391.2 130.8h7M391.2 150.1h7M391.5 133.0h7M391.5 149.2h7M391.8 129.3h7M391.8 148.4h7M392.0 131.2h7M392.0 147.4h7M392.3 131.0h7M392.3 149.3h7M392.5 132.6h7M392.5 147.6h7M392.8 128.6h7M392.8 144.0h7M393.1 129.7h7M393.1 147.6h7M393.3 129.2h7M393.3 146.4h7M393.6 135.1h7M393.6 148.1h7M393.9 133.2h7M393.9 149.9h7M394.1 129.6h7M394.1 146.8h7M394.4 130.8h7M394.4 146.0h7M394.6 130.8h7M394.6 148.3h7M394.9 130.1h7M394.9 145.6h7M395.2 130.1h7M395.2 149.0h7M395.4 129.7h7M395.4 148.9h7M395.7 129.2h7M395.7 148.3h7M396.0 133.5h7M396.0 150.0h7M396.2 127.4h7M396.2 146.2h7M396.5 132.8h7M396.5 149.8h7M396.8 128.2h7M396.8 149.0h7M397.0 136.2h7M397.0 151.5h7M397.3 132.2h7M397.3 149.5h7M397.5 127.1h7M397.5 146.6h7M397.8 132.6h7M397.8 151.7h7M398.1 129.9h7M398.1 148.6h7M398.3 133.3h7M398.3 151.8h7M398.6 130.1h7M398.6 150.8h7M398.9 130.7h7M398.9 147.0h7M399.1 128.7h7M399.1 143.9h7M399.4 128.5h7M399.4 149.4h7M399.7 131.9h7M399.7 151.3h7M399.9 132.8h7M399.9 152.6h7M400.2 129.3h7M400.2 147.6h7M400.4 134.2h7M400.4 151.6h7M400.7 129.6h7M400.7 143.6h7M401.0 133.3h7M401.0 149.6h7M401.2 125.3h7M401.2 143.5h7M401.5 129.8h7M401.5 148.7h7M401.8 128.2h7M401.8 149.4h7M402.0 133.1h7M402.0 152.8h7M402.3 130.6h7M402.3 146.1h7M402.5 130.7h7M402.5 146.1h7M402.8 131.2h7M402.8 149.5h7M403.1 127.3h7M403.1 146.2h7M403.3 129.6h7M403.3 146.5h7M403.6 128.5h7M403.6 147.1h7M403.9 130.5h7M403.9 149.7h7M404.1 129.2h7M404.1 146.9h7M404.4 130.7h7M404.4 147.9h7M404.7 125.9h7M404.7 142.4h7M404.9 131.4h7M404.9 145.9h7M405.2 132.4h7M405.2 148.9h7M405.4 127.2h7M405.4 148.2h7M405.7 128.4h7M405.7 147.1h7M406.0 132.5h7M406.0 148.9h7M406.2 128.4h7M406.2 146.6h7M406.5 130.5h7M406.5 146.6h7M406.8 130.3h7M406.8 145.9h7M407.0 125.7h7M407.0 146.7h7M407.3 129.6h7M407.3 147.8h7M407.5 132.0h7M407.5 146.1h7M407.8 131.0h7M407.8 150.3h7M408.1 130.1h7M408.1 147.9h7M408.3 130.9h7M408.3 144.9h7M408.6 132.2h7M408.6 147.3h7M408.9 131.9h7M408.9 145.8h7M409.1 129.2h7M409.1 147.4h7M409.4 130.0h7M409.4 150.7h7M409.7 129.9h7M409.7 151.3h7M409.9 130.5h7M409.9 147.5h7M410.2 128.1h7M410.2 150.7h7M410.4 125.9h7M410.4 151.7h7M410.7 125.7h7M410.7 158.9h7M411.0 116.9h7M411.0 156.6h7M411.2 111.9h7M411.2 157.9h7M411.5 106.8h7M411.5 165.1h7M411.8 109.9h7M411.8 167.9h7M412.0 107.4h7M412.0 168.2h7M412.3 111.5h7M412.3 171.6h7M412.6 105.2h7M412.6 172.4h7M412.8 107.8h7M412.8 172.5h7M413.1 107.8h7M413.1 173.9h7M413.3 101.8h7M413.3 172.4h7M413.6 103.8h7M413.6 172.8h7M413.9 102.6h7M413.9 171.4h7M414.1 99.4h7M414.1 175.1h7M414.4 101.2h7M414.4 170.3h7M414.7 100.6h7M414.7 173.7h7M414.9 102.0h7M414.9 176.3h7M415.2 102.8h7M415.2 173.4h7M415.4 99.9h7M415.4 173.3h7M415.7 103.2h7M415.7 174.8h7M416.0 98.2h7M416.0 177.5h7M416.2 99.2h7M416.2 177.8h7M416.5 99.3h7M416.5 178.4h7M416.8 99.2h7M416.8 179.6h7M417.0 102.3h7M417.0 178.9h7M417.3 99.1h7M417.3 178.4h7M417.6 98.1h7M417.6 179.5h7M417.8 100.2h7M417.8 176.8h7M418.1 95.8h7M418.1 178.1h7M418.3 99.1h7M418.3 182.2h7M418.6 97.5h7M418.6 181.6h7M418.9 102.5h7M418.9 181.7h7M419.1 98.3h7M419.1 182.7h7M419.4 97.3h7M419.4 183.5h7M419.7 98.0h7M419.7 183.6h7M419.9 95.0h7M419.9 182.0h7M420.2 94.4h7M420.2 182.2h7M420.4 97.3h7M420.4 183.7h7M420.7 95.1h7M420.7 184.5h7M421.0 96.3h7M421.0 186.4h7M421.2 97.1h7M421.2 185.6h7M421.5 94.0h7M421.5 185.6h7M421.8 94.5h7M421.8 188.3h7M422.0 94.0h7M422.0 186.7h7M422.3 90.7h7M422.3 185.7h7M422.6 93.0h7M422.6 186.1h7M422.8 93.0h7M422.8 188.1h7M423.1 90.0h7M423.1 188.2h7M423.3 91.3h7M423.3 191.4h7M423.6 94.4h7M423.6 188.5h7M423.9 94.8h7M423.9 189.1h7M424.1 95.3h7M424.1 191.2h7M424.4 91.6h7M424.4 188.5h7M424.7 90.4h7M424.7 191.8h7M424.9 91.1h7M424.9 190.3h7M425.2 90.1h7M425.2 193.4h7M425.4 91.2h7M425.4 192.5h7M425.7 88.5h7M425.7 190.0h7M426.0 87.8h7M426.0 189.9h7M426.2 90.1h7M426.2 193.7h7M426.5 85.1h7M426.5 194.0h7M426.8 86.3h7M426.8 194.2h7M427.0 87.2h7M427.0 189.1h7M427.3 85.0h7M427.3 193.7h7M427.6 84.7h7M427.6 195.6h7M427.8 82.4h7M427.8 194.0h7M428.1 82.0h7M428.1 197.7h7M428.3 84.6h7M428.3 196.6h7M428.6 84.8h7M428.6 199.1h7M428.9 80.6h7M428.9 197.2h7M429.1 78.9h7M429.1 198.4h7M429.4 81.8h7M429.4 197.6h7M429.7 82.4h7M429.7 197.7h7M429.9 78.7h7M429.9 197.5h7M430.2 80.8h7M430.2 192.1h7M430.5 78.5h7M430.5 200.0h7M430.7 79.8h7M430.7 198.1h7M431.0 81.4h7M431.0 201.7h7M431.2 78.8h7M431.2 199.6h7M431.5 81.9h7M431.5 202.5h7M431.8 75.8h7M431.8 200.5h7M432.0 79.0h7M432.0 202.8h7M432.3 77.9h7M432.3 202.1h7M432.6 79.1h7M432.6 203.2h7M432.8 72.8h7M432.8 199.9h7M433.1 77.0h7M433.1 200.2h7M433.3 76.3h7M433.3 202.3h7M433.6 75.7h7M433.6 205.2h7M433.9 73.8h7M433.9 202.5h7M434.1 73.0h7M434.1 205.1h7M434.4 74.4h7M434.4 198.9h7M434.7 74.8h7M434.7 203.6h7M434.9 73.4h7M434.9 206.1h7M435.2 71.2h7M435.2 204.8h7M435.5 69.2h7M435.5 206.8h7M435.7 74.6h7M435.7 206.3h7M436.0 71.9h7M436.0 206.7h7M436.2 69.7h7M436.2 208.1h7M436.5 69.6h7M436.5 199.8h7M436.8 67.0h7M436.8 208.9h7M437.0 65.5h7M437.0 205.6h7M437.3 69.3h7M437.3 206.5h7M437.6 66.6h7M437.6 208.4h7M437.8 70.4h7M437.8 206.6h7M438.1 67.8h7M438.1 206.0h7M438.3 66.4h7M438.3 206.4h7M438.6 65.8h7M438.6 209.6h7M438.9 64.9h7M438.9 207.9h7M439.1 62.8h7M439.1 209.2h7M439.4 63.8h7M439.4 209.2h7M439.7 63.9h7M439.7 208.7h7M439.9 62.2h7M439.9 210.3h7M440.2 63.3h7M440.2 209.3h7M440.5 63.9h7M440.5 211.7h7M440.7 60.7h7M440.7 207.5h7M441.0 58.6h7M441.0 209.6h7M441.2 64.7h7M441.2 212.3h7M441.5 60.4h7M441.5 209.5h7M441.8 61.0h7M441.8 208.9h7M442.0 63.3h7M442.0 212.5h7M442.3 60.8h7M442.3 209.2h7M442.6 62.4h7M442.6 211.3h7M442.8 62.1h7M442.8 211.9h7M443.1 59.9h7M443.1 210.0h7M443.4 59.8h7M443.4 211.0h7M443.6 64.3h7M443.6 208.2h7M443.9 62.2h7M443.9 208.9h7M444.1 62.0h7M444.1 213.1h7M444.4 61.8h7M444.4 209.3h7M444.7 63.6h7M444.7 213.0h7M444.9 62.8h7M444.9 213.2h7" stroke="#ffc400" stroke-width="1.4" fill="none"/>
<path d="M142.0 118.9L166.2 138.3M280.0 135.2L365.2 137.8" stroke="#404040" stroke-width="1.2" fill="none"/>
<path d="M66.19 131.6 66.45 131.8 66.72 130.2 66.98 132.1 67.24 131.8 67.51 130.2 67.77 131.3 68.03 130.9 68.30 130.0 68.56 130.9 68.82 131.7 69.09 129.1 69.35 130.4 69.61 132.1 69.88 130.9 70.14 129.8 70.40 130.8 70.67 131.9 70.93 130.9 71.19 130.6 71.46 130.4 71.72 130.8 71.98 130.8 72.25 130.6 72.51 131.0 72.77 131.6 73.04 131.1 73.30 130.5 73.56 130.7 73.83 130.5 74.09 130.8 74.35 130.7 74.61 130.9 74.88 130.8 75.14 130.6 75.40 130.6 75.67 130.6 75.93 130.5 76.19 130.4 76.46 130.6 76.72 130.4 76.98 130.6 77.25 129.9 77.51 130.6 77.77 130.5 78.04 130.1 78.30 130.0 78.56 130.6 78.83 130.1 79.09 130.0 79.35 129.9 79.62 129.9 79.88 130.2 80.14 130.2 80.41 130.4 80.67 129.6 80.93 130.5 81.20 130.8 81.46 130.2 81.72 130.6 81.99 130.9 82.25 130.7 82.51 130.6 82.78 130.2 83.04 130.6 83.30 130.5 83.57 130.8 83.83 130.6 84.09 130.7 84.36 130.9 84.62 130.6 84.88 130.7 85.14 130.7 85.41 130.6 85.67 130.5 85.93 130.3 86.20 130.0 86.46 130.4 86.72 130.0 86.99 130.2 87.25 130.0 87.51 129.9 87.78 130.3 88.04 129.8 88.30 129.8 88.57 129.6 88.83 129.3 89.09 129.5 89.36 129.1 89.62 128.8 89.88 129.2 90.15 129.3 90.41 128.8 90.67 129.4 90.94 129.6 91.20 129.1 91.46 129.7 91.73 129.6 91.99 130.0 92.25 129.9 92.52 129.7 92.78 130.0 93.04 130.3 93.31 130.3 93.57 130.2 93.83 130.5 94.10 130.6 94.36 130.8 94.62 130.2 94.89 131.0 95.15 131.0 95.41 131.0 95.67 130.5 95.94 131.1 96.20 130.8 96.46 130.8 96.73 130.8 96.99 130.7 97.25 130.7 97.52 130.5 97.78 130.6 98.04 130.9 98.31 130.7 98.57 130.1 98.83 130.8 99.10 130.5 99.36 130.8 99.62 129.9 99.89 130.7 100.15 130.5 100.41 130.3 100.68 130.3 100.94 130.9 101.20 130.4 101.47 130.8 101.73 130.8 101.99 130.6 102.26 131.0 102.52 131.3 102.78 130.2 103.05 130.8 103.31 130.7 103.57 130.5 103.84 130.9 104.10 131.0 104.36 131.4 104.63 131.1 104.89 130.9 105.15 130.9 105.42 130.8 105.68 131.2 105.94 131.3 106.20 131.6 106.47 131.2 106.73 130.4 106.99 130.5 107.26 130.6 107.52 130.3 107.78 130.5 108.05 130.7 108.31 130.1 108.57 130.0 108.84 130.1 109.10 130.2 109.36 130.2 109.63 129.9 109.89 130.1 110.15 130.3 110.42 130.0 110.68 129.6 110.94 129.8 111.21 129.7 111.47 129.8 111.73 129.7 112.00 129.8 112.26 129.7 112.52 129.4 112.79 129.8 113.05 129.4 113.31 129.4 113.58 129.8 113.84 129.3 114.10 129.2 114.37 129.3 114.63 129.2 114.89 129.1 115.16 129.0 115.42 129.5 115.68 129.4 115.95 128.9 116.21 129.0 116.47 128.8 116.73 129.4 117.00 129.2 117.26 128.4 117.52 128.3 117.79 128.5 118.05 128.2 118.31 128.9 118.58 128.8 118.84 128.5 119.10 128.1 119.37 128.7 119.63 128.3 119.89 128.2 120.16 128.2 120.42 127.8 120.68 128.1 120.95 127.1 121.21 127.5 121.47 127.3 121.74 127.3 122.00 126.8 122.26 126.2 122.53 126.4 122.79 127.5 123.05 125.9 123.32 126.1 123.58 125.4 123.84 124.9 124.11 126.7 124.37 124.7 124.63 124.8 124.90 126.0 125.16 123.7 125.42 123.3 125.69 122.4 125.95 123.6 126.21 122.9 126.48 122.3 126.74 123.6 127.00 122.0 127.27 122.3 127.53 121.2 127.79 120.6 128.05 121.0 128.32 119.2 128.58 121.3 128.84 120.8 129.11 119.4 129.37 119.6 129.63 120.9 129.90 120.0 130.16 119.9 130.42 118.9 130.69 117.7 130.95 118.2 131.21 116.6 131.48 118.3 131.74 117.2 132.00 116.6 132.27 116.1 132.53 118.1 132.79 116.4 133.06 116.4 133.32 116.8 133.58 117.2 133.85 115.0 134.11 116.5 134.37 118.8 134.64 117.6 134.90 118.3 135.16 117.8 135.43 120.2 135.69 120.0 135.95 120.6 136.22 119.6 136.48 120.6 136.74 120.0 137.01 119.7 137.27 120.3 137.53 119.2 137.79 119.6 138.06 118.3 138.32 119.9 138.58 119.0 138.85 119.0 139.11 119.6 139.37 119.0 139.64 119.0 139.90 118.8 140.16 119.3 140.43 118.1 140.69 118.6 140.95 119.1 141.22 118.4 141.48 118.2 141.74 118.9 142.01 118.9M166.23 138.3 166.49 142.2 166.75 140.0 167.02 138.2 167.28 133.3 167.54 138.2 167.81 139.1 168.07 138.2 168.33 141.2 168.60 140.6 168.86 139.0 169.12 141.6 169.38 137.6 169.65 135.3 169.91 137.8 170.17 138.2 170.44 138.7 170.70 138.9 170.96 140.6 171.23 135.7 171.49 144.3 171.75 143.6 172.02 135.2 172.28 140.3 172.54 140.7 172.81 138.9 173.07 137.8 173.33 140.9 173.60 136.0 173.86 140.0 174.12 144.7 174.39 140.3 174.65 141.1 174.91 136.3 175.18 138.8 175.44 141.6 175.70 137.3 175.97 142.3 176.23 137.4 176.49 143.6 176.76 141.4 177.02 138.9 177.28 138.1 177.55 143.3 177.81 139.5 178.07 138.9 178.34 139.1 178.60 139.7 178.86 140.1 179.13 142.1 179.39 139.9 179.65 135.0 179.91 141.5 180.18 139.3 180.44 139.8 180.70 141.6 180.97 142.2 181.23 137.1 181.49 142.4 181.76 140.3 182.02 141.0 182.28 137.5 182.55 141.1 182.81 143.2 183.07 140.6 183.34 136.9 183.60 138.9 183.86 135.5 184.13 138.5 184.39 137.7 184.65 141.8 184.92 135.5 185.18 135.5 185.44 142.4 185.71 138.5 185.97 138.2 186.23 139.7 186.50 142.5 186.76 139.8 187.02 137.6 187.29 138.1 187.55 139.0 187.81 139.8 188.08 134.2 188.34 140.8 188.60 133.7 188.87 138.3 189.13 138.2 189.39 138.6 189.66 142.2 189.92 140.5 190.18 143.0 190.44 138.9 190.71 139.4 190.97 137.7 191.23 139.1 191.50 143.6 191.76 138.3 192.02 140.7 192.29 137.9 192.55 136.9 192.81 140.5 193.08 137.5 193.34 138.1 193.60 137.4 193.87 133.3 194.13 138.7 194.39 143.8 194.66 139.7 194.92 138.3 195.18 144.0 195.45 139.2 195.71 140.3 195.97 138.5 196.24 140.8 196.50 138.9 196.76 137.2 197.03 137.4 197.29 135.2 197.55 139.8 197.82 138.7 198.08 138.9 198.34 139.3 198.61 134.4 198.87 139.7 199.13 135.0 199.40 140.8 199.66 135.5 199.92 139.7 200.19 140.6 200.45 137.7 200.71 139.6 200.98 139.0 201.24 138.3 201.50 142.2 201.76 140.0 202.03 139.1 202.29 135.7 202.55 139.7 202.82 140.6 203.08 137.4 203.34 139.9 203.61 135.9 203.87 140.1 204.13 143.0 204.40 139.5 204.66 139.6 204.92 137.5 205.19 137.3 205.45 139.3 205.71 139.3 205.98 138.1 206.24 140.2 206.50 139.9 206.77 137.6 207.03 140.1 207.29 140.5 207.56 137.4 207.82 138.2 208.08 140.5 208.35 140.0 208.61 135.2 208.87 137.6 209.14 141.2 209.40 139.6 209.66 137.8 209.93 140.3 210.19 139.5 210.45 138.0 210.72 139.8 210.98 139.8 211.24 137.5 211.50 138.3 211.77 139.7 212.03 138.6 212.29 138.3 212.56 138.3 212.82 137.3 213.08 140.2 213.35 139.1 213.61 140.7 213.87 139.5 214.14 140.7 214.40 138.3 214.66 141.8 214.93 139.9 215.19 137.8 215.45 140.1 215.72 136.4 215.98 139.3 216.24 137.7 216.51 138.2 216.77 138.7 217.03 138.5 217.30 139.4 217.56 141.9 217.82 138.5 218.09 139.3 218.35 136.0 218.61 141.8 218.88 138.8 219.14 139.1 219.40 137.6 219.67 140.2 219.93 138.5 220.19 139.7 220.46 138.5 220.72 139.0 220.98 139.1 221.25 137.7 221.51 139.4 221.77 133.6 222.04 138.6 222.30 136.3 222.56 137.4 222.82 139.0 223.09 136.8 223.35 141.6 223.61 138.4 223.88 139.3 224.14 136.2 224.40 138.8 224.67 137.9 224.93 136.8 225.19 138.5 225.46 139.9 225.72 138.2 225.98 139.2 226.25 139.1 226.51 139.2 226.77 136.3 227.04 137.6 227.30 139.0 227.56 139.6 227.83 139.9 228.09 136.1 228.35 138.4 228.62 141.9 228.88 139.8 229.14 137.2 229.41 138.2 229.67 138.8 229.93 138.5 230.20 138.4 230.46 137.3 230.72 139.5 230.99 137.8 231.25 137.5 231.51 139.4 231.78 139.0 232.04 137.1 232.30 138.4 232.56 138.5 232.83 138.2 233.09 139.9 233.35 139.0 233.62 137.1 233.88 139.5 234.14 139.0 234.41 138.5 234.67 136.8 234.93 139.5 235.20 137.9 235.46 139.3 235.72 137.8 235.99 139.2 236.25 138.6 236.51 138.1 236.78 139.1 237.04 140.3 237.30 139.2 237.57 140.4 237.83 137.9 238.09 137.5 238.36 138.4 238.62 137.8 238.88 139.9 239.15 139.0 239.41 137.5 239.67 137.2 239.94 138.3 240.20 138.4 240.46 139.5 240.73 139.4 240.99 140.4 241.25 138.5 241.52 138.6 241.78 136.5 242.04 139.0 242.31 140.1 242.57 138.9 242.83 139.4 243.09 140.5 243.36 138.5 243.62 139.0 243.88 138.0 244.15 137.6 244.41 138.5 244.67 139.0 244.94 138.2 245.20 137.8 245.46 138.0 245.73 140.0 245.99 138.0 246.25 138.3 246.52 137.3 246.78 140.5 247.04 138.2 247.31 138.7 247.57 137.9 247.83 139.0 248.10 137.5 248.36 138.7 248.62 138.9 248.89 140.3 249.15 137.4 249.41 140.3 249.68 135.5 249.94 140.2 250.20 137.6 250.47 138.4 250.73 141.0 250.99 137.1 251.26 139.0 251.52 138.9 251.78 137.9 252.05 139.7 252.31 138.4 252.57 136.8 252.84 137.1 253.10 139.1 253.36 139.2 253.62 138.2 253.89 138.1 254.15 139.1 254.41 138.4 254.68 141.2 254.94 138.2 255.20 137.9 255.47 139.0 255.73 138.3 255.99 138.8 256.26 137.5 256.52 137.0 256.78 139.8 257.05 138.2 257.31 137.6 257.57 138.2 257.84 139.0 258.10 137.0 258.36 139.7 258.63 138.3 258.89 138.3 259.15 136.2 259.42 139.0 259.68 139.7 259.94 138.8 260.21 138.4 260.47 138.5 260.73 138.2 261.00 137.8 261.26 138.9 261.52 137.1 261.79 139.9 262.05 137.9 262.31 138.1 262.58 138.8 262.84 137.6 263.10 138.6 263.37 139.1 263.63 137.5 263.89 139.0 264.15 138.6 264.42 138.8 264.68 139.5 264.94 138.7 265.21 136.3 265.47 138.6 265.73 138.4 266.00 137.2 266.26 138.3 266.52 139.1 266.79 137.9 267.05 139.7 267.31 137.9 267.58 137.6 267.84 139.1 268.10 138.7 268.37 139.7 268.63 138.6 268.89 138.2 269.16 138.3 269.42 139.4 269.68 138.4 269.95 136.5 270.21 138.6 270.47 136.8 270.74 138.8 271.00 138.9 271.26 137.6 271.53 138.7 271.79 139.5 272.05 139.1 272.32 138.4 272.58 137.8 272.84 138.7 273.11 137.6 273.37 137.2 273.63 138.3 273.90 138.6 274.16 138.1 274.42 138.3 274.69 139.2 274.95 137.5 275.21 137.8 275.47 137.1 275.74 138.6 276.00 139.0 276.26 138.9 276.53 136.7 276.79 138.4 277.05 137.6 277.32 138.3 277.58 136.1 277.84 136.1 278.11 136.3 278.37 135.6 278.63 136.3 278.90 136.6 279.16 135.9 279.42 136.2 279.69 135.5 279.95 135.2M365.24 137.8 365.51 137.3 365.77 137.5 366.03 137.0 366.30 136.5 366.56 138.7 366.82 138.5 367.09 136.0 367.35 138.6 367.61 137.4 367.88 137.8 368.14 137.1 368.40 136.3 368.67 136.7 368.93 136.0 369.19 137.0 369.46 136.0 369.72 135.6 369.98 137.3 370.24 137.7 370.51 136.7 370.77 138.5 371.03 138.2 371.30 136.4 371.56 137.2 371.82 137.9 372.09 137.5 372.35 138.2 372.61 136.2 372.88 138.1 373.14 138.3 373.40 139.3 373.67 136.8 373.93 138.7 374.19 138.0 374.46 138.1 374.72 137.9 374.98 137.5 375.25 136.4 375.51 137.3 375.77 136.6 376.04 139.1 376.30 136.1 376.56 138.2 376.83 137.9 377.09 137.4 377.35 138.2 377.62 138.2 377.88 137.0 378.14 136.5 378.41 136.8 378.67 136.7 378.93 137.5 379.20 137.7 379.46 137.8 379.72 136.5 379.99 137.8 380.25 137.1 380.51 136.4 380.77 138.3 381.04 137.2 381.30 137.0 381.56 138.0 381.83 137.8 382.09 136.8 382.35 137.8 382.62 137.5 382.88 138.7 383.14 138.4 383.41 137.1 383.67 135.9 383.93 137.4 384.20 139.2 384.46 138.4 384.72 137.2 384.99 136.8 385.25 137.9 385.51 136.7 385.78 137.7 386.04 137.6 386.30 137.3 386.57 136.6 386.83 137.4 387.09 138.1 387.36 137.2 387.62 137.2 387.88 137.4 388.15 136.8 388.41 137.3 388.67 136.7 388.94 137.0 389.20 137.2 389.46 137.3 389.73 137.1 389.99 138.5 390.25 137.6 390.51 138.0 390.78 137.1 391.04 137.1 391.30 137.5 391.57 138.0 391.83 136.9 392.09 137.5 392.36 137.5 392.62 137.4 392.88 136.1 393.15 137.5 393.41 137.4 393.67 137.4 393.94 139.2 394.20 136.9 394.46 136.5 394.73 138.1 394.99 137.9 395.25 137.5 395.52 137.0 395.78 138.1 396.04 138.0 396.31 135.0 396.57 137.9 396.83 137.0 397.10 138.5 397.36 137.6 397.62 136.5 397.89 137.3 398.15 138.1 398.41 136.1 398.68 137.2 398.94 140.6 399.20 138.2 399.47 138.8 399.73 137.0 399.99 140.5 400.26 135.7 400.52 140.9 400.78 139.4 401.05 136.2 401.31 140.1 401.57 137.1 401.83 140.5 402.10 137.7 402.36 137.4 402.62 135.8 402.89 138.3 403.15 138.7 403.41 139.1 403.68 136.5 403.94 140.2 404.20 135.1 404.47 140.1 404.73 134.8 404.99 137.2 405.26 137.6 405.52 140.5 405.78 135.8 406.05 137.1 406.31 139.9 406.57 135.8 406.84 135.7 407.10 138.2 407.36 138.8 407.63 136.9 407.89 137.1 408.15 133.3 408.42 136.5 408.68 140.8 408.94 136.8 409.21 136.7 409.47 138.5 409.73 134.9 410.00 137.5 410.26 136.2 410.52 134.8 410.79 137.1 411.05 136.2 411.31 136.4 411.57 136.4 411.84 136.5 412.10 137.7 412.36 136.6 412.63 136.7 412.89 138.4 413.15 136.8 413.42 136.9 413.68 137.1 413.94 136.9 414.21 139.0 414.47 137.1 414.73 136.9 415.00 136.6 415.26 137.7 415.52 137.7 415.79 138.3 416.05 137.4 416.31 137.2 416.58 137.1 416.84 136.3 417.10 136.3 417.37 135.7 417.63 136.7 417.89 134.4 418.16 135.2 418.42 137.2 418.68 138.0 418.95 135.1 419.21 136.8 419.47 136.2 419.74 136.3 420.00 135.6 420.26 137.0 420.53 137.0 420.79 136.3 421.05 136.2 421.32 136.0 421.58 135.1 421.84 136.8 422.11 136.5 422.37 138.4 422.63 136.7 422.89 136.1 423.16 137.0 423.42 136.7 423.68 136.0 423.95 136.0 424.21 136.2 424.47 137.6 424.74 136.8 425.00 136.7 425.26 136.9 425.53 137.6 425.79 136.2 426.05 135.9 426.32 136.4 426.58 136.4 426.84 136.8 427.11 137.2 427.37 136.4 427.63 136.3 427.90 136.5 428.16 135.3 428.42 136.2 428.69 136.1 428.95 135.6 429.21 137.4 429.48 136.6 429.74 136.0 430.00 136.8 430.27 136.5 430.53 135.4 430.79 136.0 431.06 137.1 431.32 136.1 431.58 136.0 431.85 137.4 432.11 138.0 432.37 136.8 432.63 136.4 432.90 135.3 433.16 136.5 433.42 135.9 433.69 135.9 433.95 136.3 434.21 136.4 434.48 136.4 434.74 136.3 435.00 136.3 435.27 135.0 435.53 136.8 435.79 135.1 436.06 136.0 436.32 135.2 436.58 136.6 436.85 136.0 437.11 137.0 437.37 135.5 437.64 136.6 437.90 134.8 438.16 135.5 438.43 136.0 438.69 135.6 438.95 136.3 439.22 137.2 439.48 136.6 439.74 135.5 440.01 136.0 440.27 136.7 440.53 135.6 440.80 135.8 441.06 136.2 441.32 137.3 441.59 135.8 441.85 134.8 442.11 135.9 442.38 136.2 442.64 136.1 442.90 136.1 443.17 136.4 443.43 134.6 443.69 134.6 443.95 135.3 444.22 135.6 444.48 135.0 444.74 135.6 445.01 136.3 445.27 135.8 445.53 135.6 445.80 136.0 446.06 135.6 446.32 135.5 446.59 135.3 446.85 135.2 447.11 136.2 447.38 135.7 447.64 135.8 447.90 135.2 448.17 136.0 448.43 135.6" stroke="#000" stroke-width="1.5" fill="none" stroke-linejoin="round"/>
<path d="M48.29 136.1 48.55 126.2 48.82 135.1 49.08 134.5 49.34 125.7 49.61 134.7 49.87 124.9 50.13 124.1 50.40 127.9 50.66 132.8 50.92 131.1 51.19 138.1 51.45 129.1 51.71 129.0 51.98 122.0 52.24 134.0 52.50 126.2 52.77 129.8 53.03 135.8 53.29 130.6 53.55 128.4 53.82 128.2 54.08 127.8 54.34 131.2 54.61 137.7 54.87 133.0 55.13 128.6 55.40 133.3 55.66 131.2 55.92 129.1 56.19 131.8 56.45 132.0 56.71 131.9 56.98 130.4 57.24 123.2 57.50 129.1 57.77 130.5 58.03 126.1 58.29 130.2 58.56 130.0 58.82 131.6 59.08 128.4 59.35 128.5 59.61 132.7 59.87 130.8 60.14 130.2 60.40 131.1 60.66 134.8 60.93 130.0 61.19 129.3 61.45 127.3 61.72 132.7 61.98 134.5 62.24 131.0 62.51 132.4 62.77 130.8 63.03 131.3 63.30 130.1 63.56 130.6 63.82 130.3 64.09 128.8 64.35 131.6 64.61 131.7 64.87 133.6 65.14 129.1 65.40 129.1 65.66 129.8 65.93 128.3 66.19 131.6" stroke="#000" stroke-width="1.0" fill="none" stroke-linejoin="round"/>
</g>
<text x="29.77" y="61.9" font-size="10.4" fill="#444" textLength="14.95" lengthAdjust="spacingAndGlyphs">0.4</text>
<text x="29.37" y="102.9" font-size="10.4" fill="#444" textLength="14.86" lengthAdjust="spacingAndGlyphs">0.2</text>
<text x="29.38" y="144.2" font-size="10.4" fill="#444" textLength="14.69" lengthAdjust="spacingAndGlyphs">0.0</text>
<text x="22.50" y="185.6" font-size="10.4" fill="#444" textLength="21.77" lengthAdjust="spacingAndGlyphs">–0.2</text>
<text x="22.50" y="223.2" font-size="10.4" fill="#444" textLength="21.55" lengthAdjust="spacingAndGlyphs">–0.4</text>
<text x="111.02" y="236.2" font-size="10.6" fill="#444" textLength="23.14" lengthAdjust="spacingAndGlyphs">1000</text>
<text x="216.34" y="236.2" font-size="10.6" fill="#444" textLength="22.62" lengthAdjust="spacingAndGlyphs">1500</text>
<text x="321.29" y="236.2" font-size="10.6" fill="#444" textLength="22.66" lengthAdjust="spacingAndGlyphs">2000</text>
<text x="426.27" y="236.2" font-size="10.6" fill="#444" textLength="23.70" lengthAdjust="spacingAndGlyphs">2500</text>
<text x="180.56" y="16.4" font-size="11.6" fill="#585858" textLength="35.85" lengthAdjust="spacingAndGlyphs">IASI–B</text>
<text x="223.00" y="16.4" font-size="11.6" fill="#585858" textLength="6.31" lengthAdjust="spacingAndGlyphs">–</text>
<text x="236.87" y="16.4" font-size="11.6" fill="#585858" textLength="44.99" lengthAdjust="spacingAndGlyphs">CRISN20</text>
<text x="288.03" y="16.4" font-size="11.6" fill="#585858" textLength="19.26" lengthAdjust="spacingAndGlyphs">(CB</text>
<text x="312.18" y="16.4" font-size="11.6" fill="#585858" textLength="46.22" lengthAdjust="spacingAndGlyphs">method)</text>
<text x="188.81" y="32.7" font-size="8.6" fill="#1a1a1a" textLength="17.63" lengthAdjust="spacingAndGlyphs">1294</text>
<text x="210.06" y="32.7" font-size="8.6" fill="#1a1a1a" textLength="14.95" lengthAdjust="spacingAndGlyphs">CNO</text>
<text x="229.57" y="32.7" font-size="8.6" fill="#1a1a1a" textLength="16.67" lengthAdjust="spacingAndGlyphs">from</text>
<text x="250.20" y="32.7" font-size="8.6" fill="#1a1a1a" textLength="44.59" lengthAdjust="spacingAndGlyphs">24/3/2023</text>
<text x="297.85" y="32.7" font-size="8.6" fill="#1a1a1a" textLength="8.45" lengthAdjust="spacingAndGlyphs">to</text>
<text x="308.68" y="32.7" font-size="8.6" fill="#1a1a1a" textLength="42.59" lengthAdjust="spacingAndGlyphs">17/2/2024</text>
<text x="170.51" y="247.5" font-size="10.4" fill="#585858" textLength="46.12" lengthAdjust="spacingAndGlyphs">Convolved</text>
<text x="220.59" y="247.5" font-size="10.4" fill="#585858" textLength="40.74" lengthAdjust="spacingAndGlyphs">channels</text>
<text x="265.45" y="247.5" font-size="10.4" fill="#585858" textLength="63.65" lengthAdjust="spacingAndGlyphs">WaveNumbers</text>
<text x="332.53" y="247.5" font-size="10.4" fill="#585858" textLength="34.86" lengthAdjust="spacingAndGlyphs">(cm–1)</text>
<g transform="translate(14.3 162.3) rotate(-90)"><text x="-0.42" y="0" font-size="10.4" fill="#585858" textLength="45.98" lengthAdjust="spacingAndGlyphs">difference</text><text x="50.26" y="0" font-size="10.4" fill="#585858" textLength="14.21" lengthAdjust="spacingAndGlyphs">(K)</text></g>
<path d="M193.6 270.2H220" stroke="#3a3a3a" stroke-width="1.1"/>
<text x="224.19" y="273.0" font-size="7.0" fill="#444" textLength="19.12" lengthAdjust="spacingAndGlyphs">Mean</text>
<path d="M302 270.2H308" stroke="#ffc400" stroke-width="1.1"/>
<text x="308.85" y="273.0" font-size="7.0" fill="#444" textLength="25.59" lengthAdjust="spacingAndGlyphs">StdDev</text></g>
</svg>
</body></html>
